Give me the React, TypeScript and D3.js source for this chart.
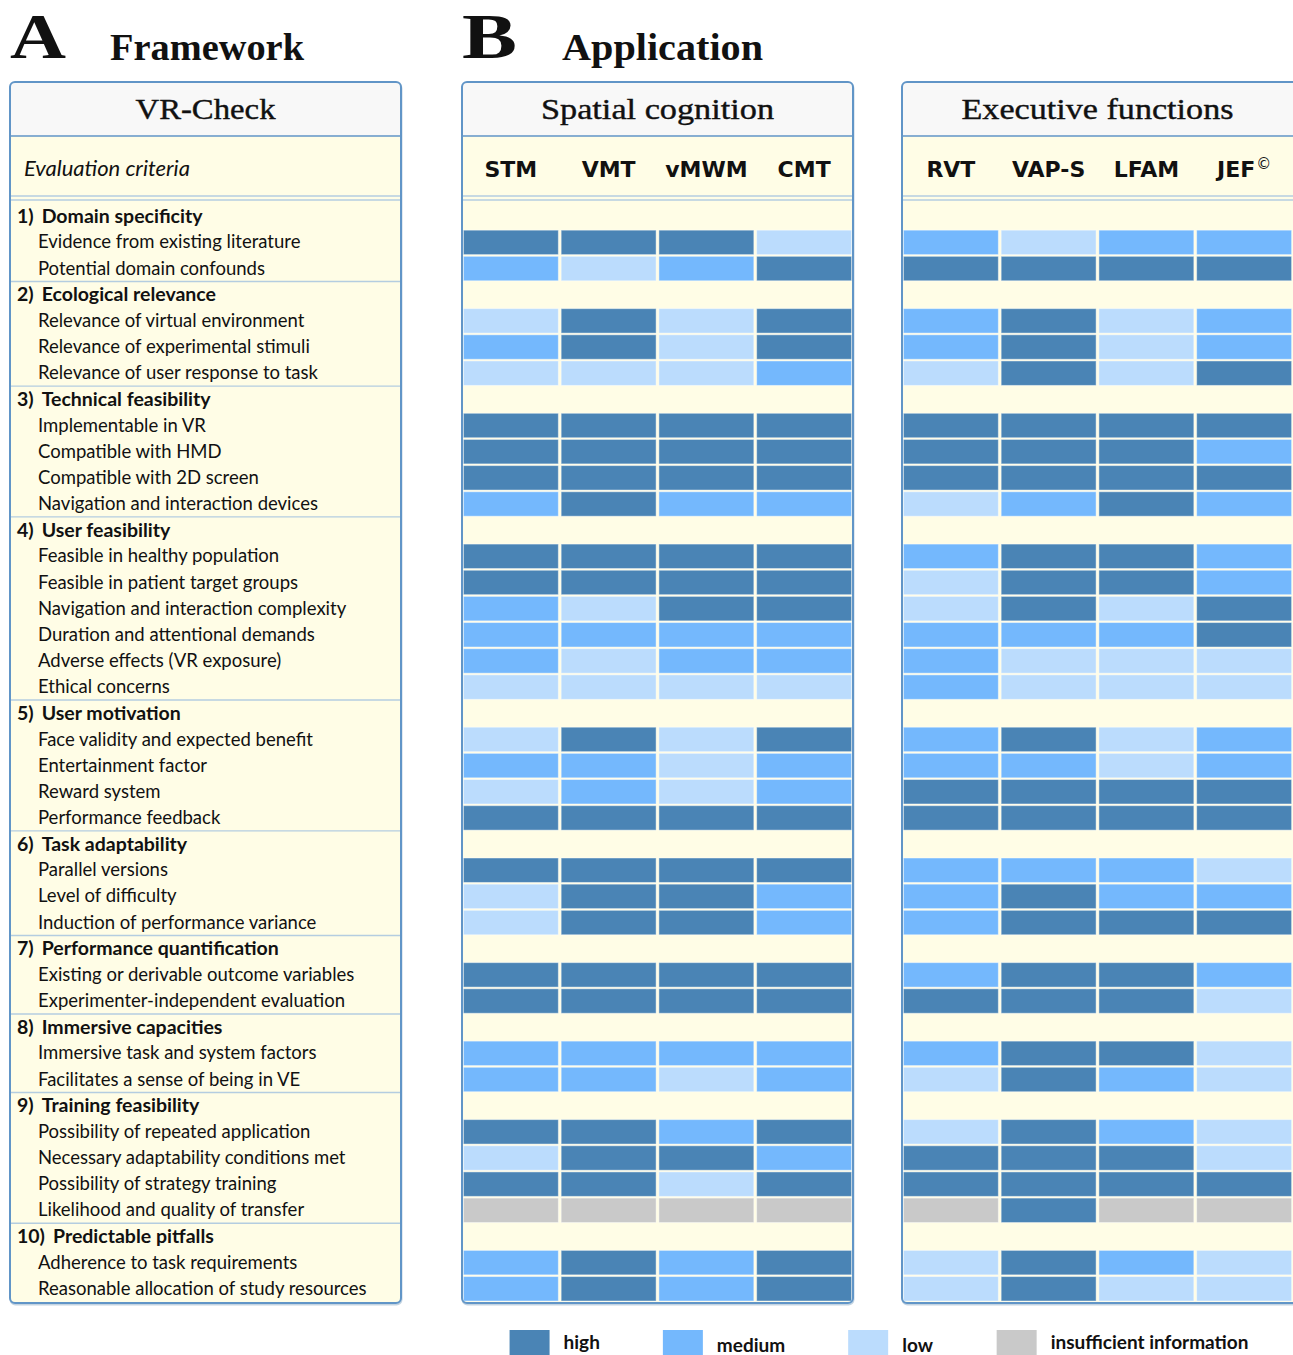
import * as d3 from 'd3'
import { useEffect, useRef } from 'react'

// ratings: h = high, m = medium, l = low, n = insufficient information
const levels = ['high', 'medium', 'low', 'insufficient information']
const levelCodes = ['h', 'm', 'l', 'n']
const levelColors = ['#4a84b5', '#74b8fd', '#bbdcfd', '#c9c9c9']

const spatialTests = ['STM', 'VMT', 'vMWM', 'CMT']
const executiveTests = ['RVT', 'VAP-S', 'LFAM', 'JEF']

const categories = [
  'Domain specificity',
  'Ecological relevance',
  'Technical feasibility',
  'User feasibility',
  'User motivation',
  'Task adaptability',
  'Performance quantification',
  'Immersive capacities',
  'Training feasibility',
  'Predictable pitfalls',
]
const criteriaPerCategory = [2, 3, 4, 6, 4, 3, 2, 2, 4, 2]

const criteria = [
  'Evidence from existing literature',
  'Potential domain confounds',
  'Relevance of virtual environment',
  'Relevance of experimental stimuli',
  'Relevance of user response to task',
  'Implementable in VR',
  'Compatible with HMD',
  'Compatible with 2D screen',
  'Navigation and interaction devices',
  'Feasible in healthy population',
  'Feasible in patient target groups',
  'Navigation and interaction complexity',
  'Duration and attentional demands',
  'Adverse effects (VR exposure)',
  'Ethical concerns',
  'Face validity and expected benefit',
  'Entertainment factor',
  'Reward system',
  'Performance feedback',
  'Parallel versions',
  'Level of difficulty',
  'Induction of performance variance',
  'Existing or derivable outcome variables',
  'Experimenter-independent evaluation',
  'Immersive task and system factors',
  'Facilitates a sense of being in VE',
  'Possibility of repeated application',
  'Necessary adaptability conditions met',
  'Possibility of strategy training',
  'Likelihood and quality of transfer',
  'Adherence to task requirements',
  'Reasonable allocation of study resources',
]

// one letter per test, same order as spatialTests
const spatialRatings = [
  'hhhl', 'mlmh',
  'lhlh', 'mhlh', 'lllm',
  'hhhh', 'hhhh', 'hhhh', 'mhmm',
  'hhhh', 'hhhh', 'mlhh', 'mmmm', 'mlmm', 'llll',
  'lhlh', 'mmlm', 'lmlm', 'hhhh',
  'hhhh', 'lhhm', 'lhhm',
  'hhhh', 'hhhh',
  'mmmm', 'mmlm',
  'hhmh', 'lhhm', 'hhlh', 'nnnn',
  'mhmh', 'mhmh',
]

// one letter per test, same order as executiveTests
const executiveRatings = [
  'mlmm', 'hhhh',
  'mhlm', 'mhlm', 'lhlh',
  'hhhh', 'hhhm', 'hhhh', 'lmhm',
  'mhhm', 'lhhm', 'lhlh', 'mmmh', 'mlll', 'mlll',
  'mhlm', 'mmlm', 'hhhh', 'hhhh',
  'mmml', 'mhmm', 'mhhh',
  'mhhm', 'hhhl',
  'mhhl', 'lhml',
  'lhml', 'hhhl', 'hhhh', 'nhnn',
  'lhml', 'lhll',
]

const color = d3.scaleOrdinal<string, string>().domain(levelCodes).range(levelColors)
const legendColor = d3.scaleOrdinal<string, string>().domain(levels).range(levelColors)

type Row = { kind: 'cat' | 'item'; label: string; num: number; item: number }
const rows: Row[] = []
{
  let k = 0
  categories.forEach((c, ci) => {
    rows.push({ kind: 'cat', label: c, num: ci + 1, item: -1 })
    for (let j = 0; j < criteriaPerCategory[ci]; j++) {
      rows.push({ kind: 'item', label: criteria[k], num: ci + 1, item: k })
      k++
    }
  })
}

const W = 1293
const H = 1355
const PW = 391
const TOP = 82
const HEAD_B = 136
const SUB_B = 196
const ROW0 = 203.3
const ROW_H = 26.16
const BOTTOM = ROW0 + rows.length * ROW_H + 1

const yRow = d3.scaleLinear().domain([0, rows.length]).range([ROW0, ROW0 + rows.length * ROW_H])

const BORDER = '#6195c7'
const CREAM = '#fffde6'
const SANS = 'Lato, "DejaVu Sans", sans-serif'
const SERIF = '"Liberation Serif", "DejaVu Serif", serif'

function PanelFrame({ id, x, width, title, titleLen, children }: any) {
  return (
    <g>
      <clipPath id={id}>
        <rect x={x} y={TOP} width={width} height={BOTTOM - TOP} rx={5} />
      </clipPath>
      <rect x={x + 0.5} y={TOP + 1.5} width={width} height={BOTTOM - TOP} rx={5} fill="none" stroke="#8aa9c4" strokeOpacity={0.5} strokeWidth={2} />
      <g clipPath={`url(#${id})`}>
        <rect x={x} y={TOP} width={width} height={BOTTOM - TOP} fill={CREAM} />
        <rect x={x} y={TOP} width={width} height={HEAD_B - TOP} fill="#f8f8f8" />
        <line x1={x} x2={x + width} y1={HEAD_B} y2={HEAD_B} stroke={BORDER} strokeWidth={1.6} />
        <line x1={x} x2={x + width} y1={SUB_B} y2={SUB_B} stroke="#b4cde0" strokeWidth={1.3} />
        <line x1={x} x2={x + width} y1={SUB_B + 4} y2={SUB_B + 4} stroke="#b4cde0" strokeWidth={1.3} />
        {children}
      </g>
      <rect x={x} y={TOP} width={width} height={BOTTOM - TOP} rx={5} fill="none" stroke={BORDER} strokeWidth={2} />
      <text
        x={x + PW / 2}
        y={118.5}
        textAnchor="middle"
        fontFamily={SERIF}
        fontSize={30}
        fill="#111"
        stroke="#111"
        strokeWidth={0.4}
        textLength={titleLen}
        lengthAdjust="spacingAndGlyphs"
      >
        {title}
      </text>
    </g>
  )
}

function RatingPanel({ id, x, width, title, titleLen, tests, ratings }: any) {
  const xCol = d3.scaleBand<string>().domain(tests).range([x, x + PW])
  return (
    <PanelFrame id={id} x={x} width={width} title={title} titleLen={titleLen}>
      {tests.map((t: string) => (
        <text
          key={t}
          x={(xCol(t) ?? 0) + xCol.bandwidth() / 2}
          y={176.5}
          textAnchor="middle"
          fontFamily='"DejaVu Sans", sans-serif'
          fontWeight="bold"
          fontSize={22}
          fill="#111"
        >
          {t}
          {t === 'JEF' ? (
            <tspan fontSize={15} fontWeight="normal" dy={-8} dx={1}>
              ©
            </tspan>
          ) : null}
        </text>
      ))}
      {rows.map((r, i) =>
        r.kind === 'item'
          ? tests.map((t: string, j: number) => (
              <rect
                key={`${i}-${t}`}
                x={(xCol(t) ?? 0) + 1.4}
                y={yRow(i) + 0.7}
                width={xCol.bandwidth() - 2.8}
                height={ROW_H - 1.7}
                fill={color(ratings[r.item][j])}
                stroke="#ffffff"
                strokeOpacity={0.45}
                strokeWidth={1}
              />
            ))
          : null,
      )}
    </PanelFrame>
  )
}

function Legend() {
  const ref = useRef<SVGGElement>(null)
  useEffect(() => {
    const g = d3.select(ref.current)
    g.selectAll('*').remove()
    const items = g.selectAll('g').data(levels).join('g')
    items
      .append('rect')
      .attr('y', 1330)
      .attr('width', 40)
      .attr('height', 30)
      .attr('fill', (d) => legendColor(d))
    items
      .append('text')
      .attr('x', 54)
      .attr('y', (d) => (d === 'medium' || d === 'low' ? 1352 : 1349))
      .attr('font-family', SANS)
      .attr('font-weight', 'bold')
      .attr('font-size', 19)
      .attr('fill', '#111')
      .text((d) => d)
    let pos = 0
    items.each(function () {
      const node = this as SVGGElement
      const w = node.getBBox().width
      d3.select(node).attr('transform', `translate(${pos},0)`)
      pos += w + 63
    })
    const total = pos - 63
    g.attr('transform', `translate(${879 - total / 2},0)`)
  }, [])
  return <g ref={ref} />
}

export default function App() {
  return (
    <div style={{ position: 'absolute', left: 0, top: 0 }}>
      <svg width={W} height={H} style={{ display: 'block', background: '#fff' }}>
        {/* panel letters and headings */}
        <text x={10} y={58} fontFamily={SERIF} fontWeight="bold" fontSize={64} fill="#111" textLength={56} lengthAdjust="spacingAndGlyphs">
          A
        </text>
        <text x={110} y={60} fontFamily={SERIF} fontWeight="bold" fontSize={38} fill="#111" textLength={194} lengthAdjust="spacingAndGlyphs">
          Framework
        </text>
        <text x={462} y={58} fontFamily={SERIF} fontWeight="bold" fontSize={64} fill="#111" textLength={55} lengthAdjust="spacingAndGlyphs">
          B
        </text>
        <text x={562} y={60} fontFamily={SERIF} fontWeight="bold" fontSize={38} fill="#111" textLength={201} lengthAdjust="spacingAndGlyphs">
          Application
        </text>

        {/* A: framework */}
        <PanelFrame id="clipA" x={10} width={PW} title="VR-Check" titleLen={140}>
          <text x={24} y={176} fontFamily={SANS} fontStyle="italic" fontSize={22} fill="#111">
            Evaluation criteria
          </text>
          {rows.map((r, i) =>
            r.kind === 'cat' && i > 0 ? (
              <line key={`sep${i}`} x1={10} x2={10 + PW} y1={yRow(i) - 0.3} y2={yRow(i) - 0.3} stroke="#b4cde0" strokeWidth={1.4} />
            ) : null,
          )}
          {rows.map((r, i) =>
            r.kind === 'cat' ? (
              <text key={`t${i}`} x={17} y={yRow(i) + 19.5} fontFamily={SANS} fontWeight="bold" fontSize={19.5} fill="#111">
                {`${r.num})`}
                <tspan dx={8}>{r.label}</tspan>
              </text>
            ) : (
              <text key={`t${i}`} x={38} y={yRow(i) + 19} fontFamily={SANS} fontSize={18.5} fill="#111">
                {r.label}
              </text>
            ),
          )}
        </PanelFrame>

        {/* B: application */}
        <RatingPanel id="clipS" x={462} width={PW} title="Spatial cognition" titleLen={233} tests={spatialTests} ratings={spatialRatings} />
        <RatingPanel id="clipE" x={902} width={PW + 4} title="Executive functions" titleLen={272} tests={executiveTests} ratings={executiveRatings} />

        <Legend />
      </svg>
    </div>
  )
}
